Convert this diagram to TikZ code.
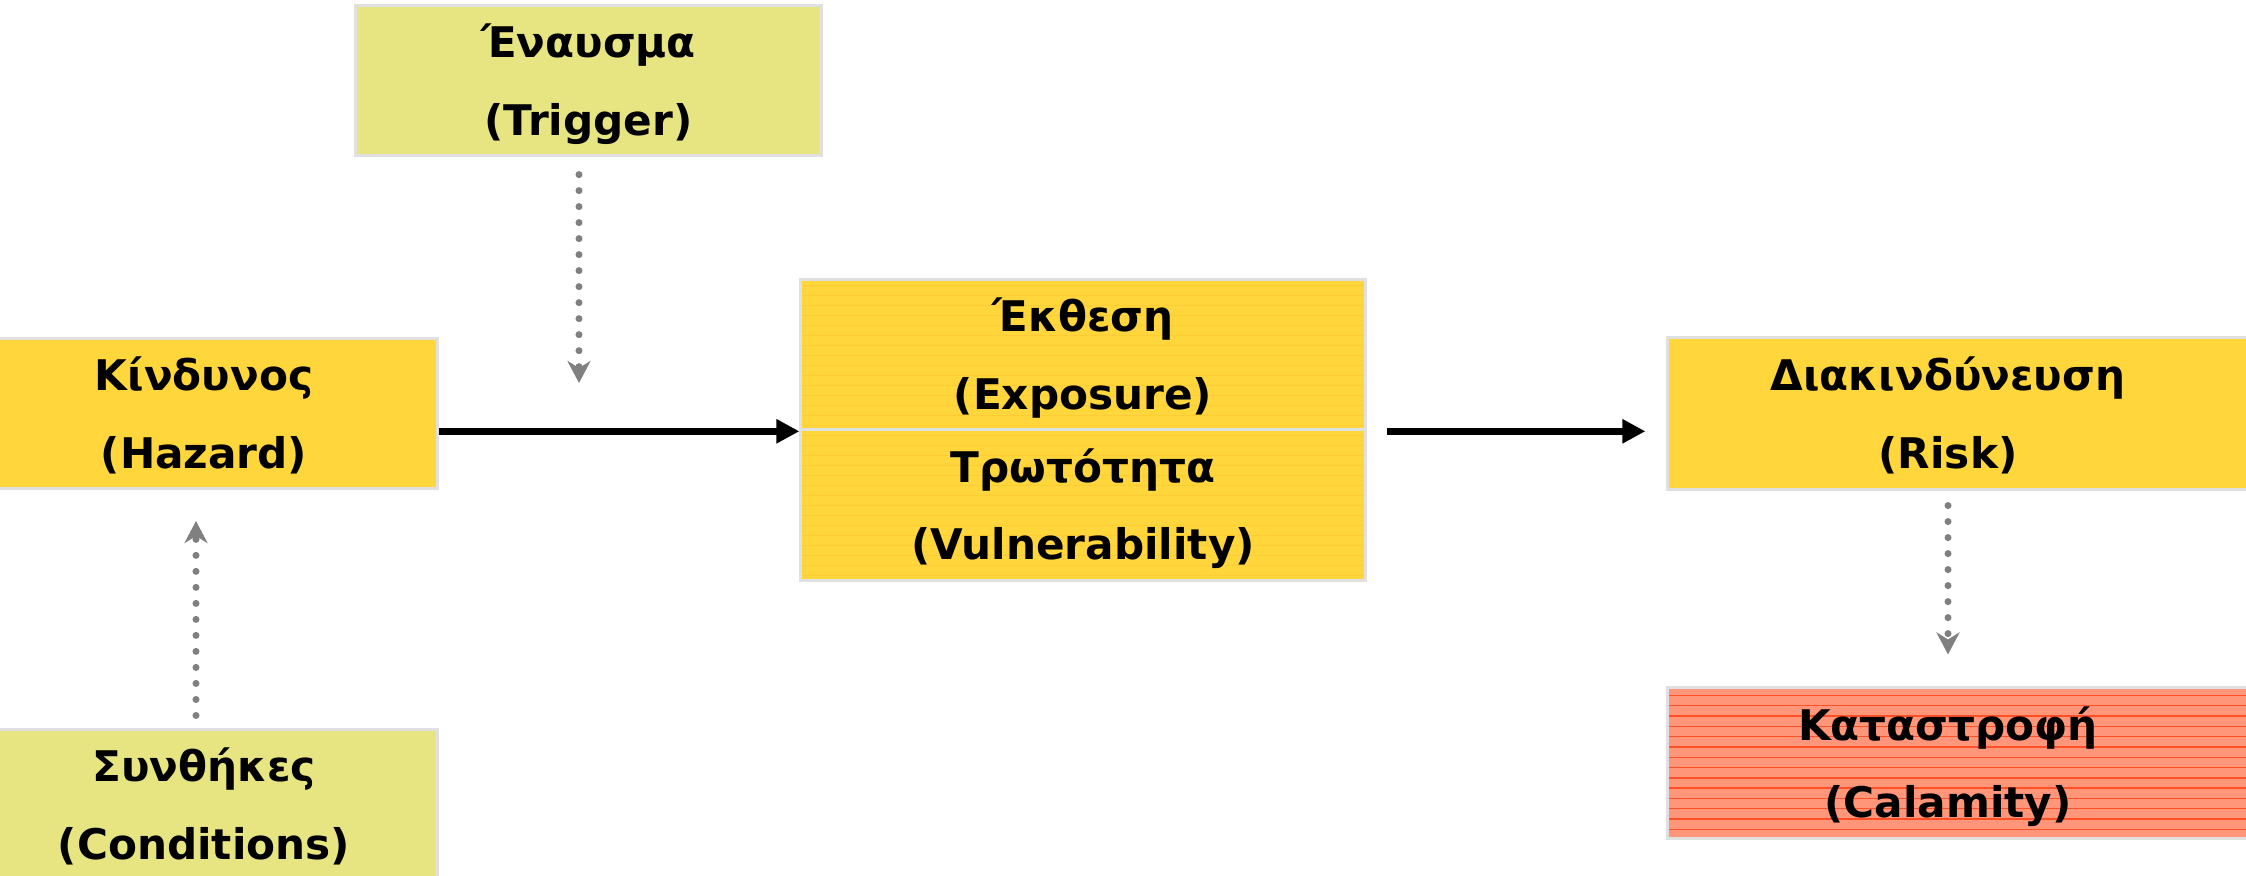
\documentclass[tikz,border=0pt]{standalone}
\usepackage{fontspec}
\setmainfont{DejaVu Sans}
\usetikzlibrary{arrows.meta,calc,backgrounds}
\definecolor{hotyellow}{RGB}{255,214,60}
\definecolor{paleolive}{RGB}{230,229,130}
\definecolor{salmon}{RGB}{255,150,122}
\definecolor{stripered}{RGB}{255,80,40}
\definecolor{edgegray}{RGB}{224,224,224}
\definecolor{dotgray}{RGB}{128,128,128}

\begin{document}
\begin{tikzpicture}[x=0.01cm,y=-0.01cm,
  box/.style={draw=edgegray,line width=0.85pt,inner sep=0pt,align=center,
    font=\bfseries\fontsize{12pt}{22pt}\selectfont,minimum height=1.49cm,
    text height=34pt,text depth=3pt},
  cause/.style={box,fill=paleolive,minimum width=4.66cm},
  hazardbox/.style={box,fill=hotyellow,minimum width=4.66cm},
  midbox/.style={box,fill=hotyellow,minimum width=5.64cm,minimum height=1.505cm,
    path picture={\foreach \k in {0,...,14}
      \draw[hotyellow!88!orange,line width=0.3pt]
        ($(path picture bounding box.north west)+(0,6+\k*10)$) -- ++(600,0);}},
  endbox/.style={box,draw=none,minimum width=5.58cm},
  flow/.style={line width=2pt,-{Triangle[length=0.23cm,width=0.23cm]}},
  dotflow/.style={dotgray,line width=2pt,line cap=round,dash pattern=on 0pt off 0.16cm,
    -{Stealth[length=0.22cm,width=0.23cm,inset=0.07cm]}}]
\useasboundingbox (0,0) rectangle (2246,875);
% boxes
\node[cause] (trig) at (588.5,80.5) {Έναυσμα\\(Trigger)};
\node[hazardbox] (haz) at (204,413.5) {Κίνδυνος\\(Hazard)};
\node[cause] (cond) at (204,804.5) {Συνθήκες\\(Conditions)};
\node[midbox] (expo) at (1083,354.5) {Έκθεση\\(Exposure)};
\node[midbox] (vuln) at (1083,505) {Τρωτότητα\\(Vulnerability)};
\node[endbox] (risk) at (1948,413.5) {Διακινδύνευση\\(Risk)};
\node[endbox,minimum height=1.48cm] (cal) at (1948,763) {Καταστροφή\\(Calamity)};
% right boxes run off the page
\begin{scope}[on background layer]
\fill[hotyellow] (risk.north west) rectangle ($(risk.south east)+(40,0)$);
\fill[salmon] (cal.north west) rectangle ($(cal.south east)+(40,0)$);
\clip (cal.north west) rectangle ($(cal.south east)+(40,0)$);
\foreach \k in {0,...,13}
  \draw[stripered,line width=0.4pt] ($(cal.north west)+(0,8+\k*10.3)$) -- ++(620,0);
\end{scope}
\foreach \b in {risk,cal}
  \draw[edgegray,line width=0.85pt] ($(\b.north east)+(40,0)$) -- (\b.north west)
    -- (\b.south west) -- ($(\b.south east)+(40,0)$);
% connectors
\coordinate (trigtip) at (579,383);
\coordinate (condtip) at (196,521);
\draw[flow] (haz.east |- expo.south) -- (expo.south west);
\draw[flow,shorten <=0.2cm,shorten >=0.22cm] (expo.south east) -- (expo.south east -| risk.west);
\draw[dotflow,shorten <=0.18cm] (trig.south -| trigtip) -- (trigtip);
\draw[dotflow,shorten <=0.13cm] (cond.north -| condtip) -- (condtip);
\draw[dotflow,shorten <=0.16cm,shorten >=0.33cm] (risk) -- (cal);
\end{tikzpicture}
\end{document}
